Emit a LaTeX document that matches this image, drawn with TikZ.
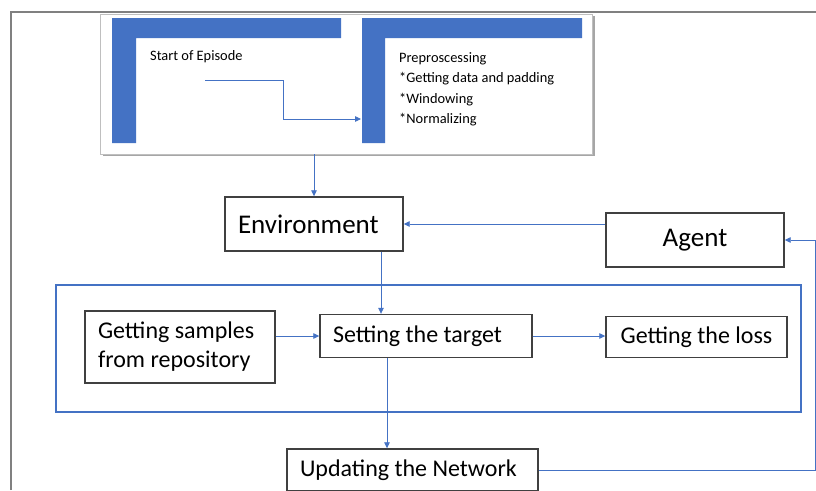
\documentclass[tikz,border=0pt]{standalone}
\usepackage{fontspec}
\setmainfont{Carlito}
\usetikzlibrary{arrows.meta}
\definecolor{ppblue}{RGB}{68,114,196}
\definecolor{boxgray}{RGB}{64,64,64}
\newcommand{\bigfont}{\fontsize{27}{32}\selectfont}
\newcommand{\midfont}{\fontsize{24}{29}\selectfont}
\newcommand{\smallfont}{\fontsize{14.4}{17}\selectfont}

\begin{document}
\begin{tikzpicture}[x=1pt,y=-1pt,
    box/.style={draw=boxgray,line width=1.4pt,inner xsep=13pt,inner ysep=0pt,align=left,
      execute at begin node={\spaceskip=0pt\xspaceskip=0pt}},
    conn/.style={-{Triangle[length=6pt,width=5.5pt]},ppblue,line width=0.8pt}]
    \useasboundingbox (0,0) rectangle (816,490);

    % top panel
    \fill[black!35] (103,16) rectangle (595,156);
    \node[draw=black!25,fill=white,inner sep=0pt,minimum width=492pt,minimum height=140pt] (panel) at (346,84) {};
    \fill[ppblue] (112,18) -- (341,18) -- (341,38) -- (136,38) -- (136,143) -- (112,143) -- cycle;
    \fill[ppblue] (362,18) -- (582,18) -- (582,38) -- (385,38) -- (385,143) -- (362,143) -- cycle;
    % frame
    \draw[gray,line width=2pt] (11,490) -- (11,12) -- (816,12);

    \node[anchor=base west,font=\smallfont,inner sep=0pt] (1) at (150,60) {Start of Episode};
    \node[anchor=base west,font=\smallfont,inner sep=0pt] (2a) at (399,62) {Preproscessing};
    \node[anchor=base west,font=\smallfont,inner sep=0pt] (2b) at (399,82) {*Getting data and padding};
    \node[anchor=base west,font=\smallfont,inner sep=0pt] (2c) at (399,103) {*Windowing};
    \node[anchor=base west,font=\smallfont,inner sep=0pt] (2d) at (399,123) {*Normalizing};
    \coordinate (s) at (205,80);
    \coordinate (p) at (361,119);

    % main boxes
    \node[box,font=\bigfont,text width=152pt,minimum height=54pt] (env) at (314,224) {Environment};
    \node[box,font=\bigfont,minimum width=178pt,minimum height=54pt] (agent) at (695,240) {Agent};

    \draw[ppblue,line width=1.2pt] (56,285) rectangle (801,412);
    \node[box,font=\midfont,text width=164pt,minimum height=72pt] (samples) at (180,347) {Getting samples\\from repository};
    \node[box,font=\midfont,text width=186pt,minimum height=43pt] (tgt) at (426,336) {Setting the target};
    \node[box,font=\midfont,minimum width=181pt,minimum height=41pt] (loss) at (696.5,337) {Getting the loss};

    \node[box,font=\midfont,text width=225pt,minimum height=42pt] (upd) at (412.5,470) {Updating the Network};
    \coordinate (r) at (815,470);

    \draw[conn] (s) -- ++(78,0) |- (p);
    \draw[conn] (panel.south -| env.north) -- (env.north);
    \draw[conn] (agent.west |- env.east) -- (env.east);
    \draw[conn] ([xshift=67pt]env.south) -- ([xshift=67pt]env.south |- tgt.north);
    \draw[conn] (samples.east |- tgt.west) -- (tgt.west);
    \draw[conn] (tgt.east) -- (tgt.east -| loss.west);
    \draw[conn] ([xshift=-39pt]tgt.south) -- ([xshift=-39pt]tgt.south |- upd.north);
    \draw[conn] (upd.east) -- (r) |- (agent.east);
\end{tikzpicture}
\end{document}
